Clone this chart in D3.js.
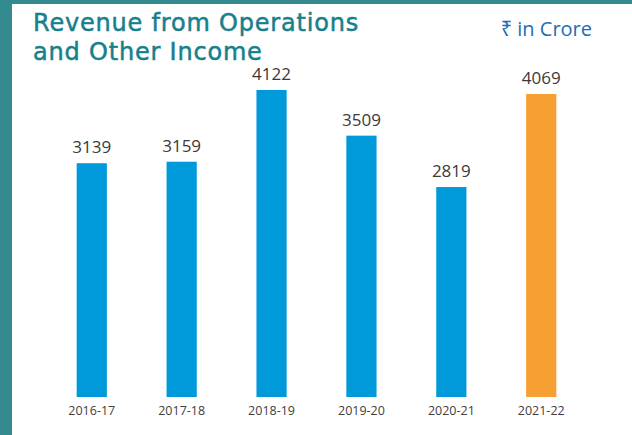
<!DOCTYPE html>
<html>
<head>
<meta charset="utf-8">
<script src="https://cdn.jsdelivr.net/npm/d3@7"></script>
<style>
  html, body { margin: 0; padding: 0; background: #fff; }
  svg { display: block; }
</style>
</head>
<body>
<div id="wrapper"></div>
<script>
const years = ["2016-17", "2017-18", "2018-19", "2019-20", "2020-21", "2021-22"]
const revenue = [3139, 3159, 4122, 3509, 2819, 4069]
const highlightYear = "2021-22"

const dimensions = {
  width: 632,
  height: 435,
  margin: { top: 90, right: 46, bottom: 38, left: 47 },
}
dimensions.boundedWidth = dimensions.width - dimensions.margin.left - dimensions.margin.right
dimensions.boundedHeight = dimensions.height - dimensions.margin.top - dimensions.margin.bottom

const svg = d3.select("#wrapper")
  .append("svg")
    .attr("width", dimensions.width)
    .attr("height", dimensions.height)

// frame
svg.append("rect")
  .attr("x", 0).attr("y", 0)
  .attr("width", dimensions.width).attr("height", 4)
  .attr("fill", "#348b8f")
svg.append("rect")
  .attr("x", 0).attr("y", 0)
  .attr("width", 12).attr("height", dimensions.height)
  .attr("fill", "#348b8f")

// title
const title = svg.append("text")
  .attr("x", 33)
  .attr("fill", "#17808c")
  .attr("stroke", "#17808c")
  .attr("stroke-width", 0.5)
  .style("font-family", "'DejaVu Sans', sans-serif")
  .style("font-size", "24px")
  .style("letter-spacing", "0.8px")
title.append("tspan").attr("x", 33).attr("y", 31).text("Revenue from Operations")
title.append("tspan").attr("x", 33).attr("y", 60).text("and Other Income")

svg.append("text")
  .attr("x", 592)
  .attr("y", 36)
  .attr("text-anchor", "end")
  .attr("fill", "#1c6db5")
  .style("font-family", "'Open Sans', 'Noto Sans', sans-serif")
  .style("font-size", "20px")
  .text("₹ in Crore")

const bounds = svg.append("g")
  .attr("transform", `translate(${dimensions.margin.left},${dimensions.margin.top})`)

const xScale = d3.scaleBand()
  .domain(years)
  .range([0, dimensions.boundedWidth])
  .paddingInner(0.664)
  .paddingOuter(0.33)

const yScale = d3.scaleLinear()
  .domain([0, d3.max(revenue)])
  .range([dimensions.boundedHeight, 0])

const data = years.map((y, i) => ({ year: y, value: revenue[i] }))

bounds.selectAll("rect.bar")
  .data(data)
  .enter().append("rect")
    .attr("class", "bar")
    .attr("x", d => xScale(d.year))
    .attr("y", d => yScale(d.value))
    .attr("width", xScale.bandwidth())
    .attr("height", d => dimensions.boundedHeight - yScale(d.value))
    .attr("fill", d => d.year === highlightYear ? "#f6a033" : "#0099da")

bounds.selectAll("text.value")
  .data(data)
  .enter().append("text")
    .attr("class", "value")
    .attr("x", d => xScale(d.year) + xScale.bandwidth() / 2)
    .attr("y", d => yScale(d.value) - 10)
    .attr("text-anchor", "middle")
    .attr("fill", "#3a3a3a")
    .style("font-family", "'Open Sans', 'Noto Sans', sans-serif")
    .style("font-size", "17px")
    .text(d => d.value)

const xAxisGenerator = d3.axisBottom(xScale).tickSize(0).tickPadding(9)

const xAxis = bounds.append("g")
  .attr("transform", `translate(0,${dimensions.boundedHeight})`)
  .call(xAxisGenerator)

xAxis.select(".domain").remove()
xAxis.selectAll("text")
  .attr("fill", "#404040")
  .style("font-family", "'Open Sans', 'Noto Sans', sans-serif")
  .style("font-size", "12.5px")
</script>
</body>
</html>
